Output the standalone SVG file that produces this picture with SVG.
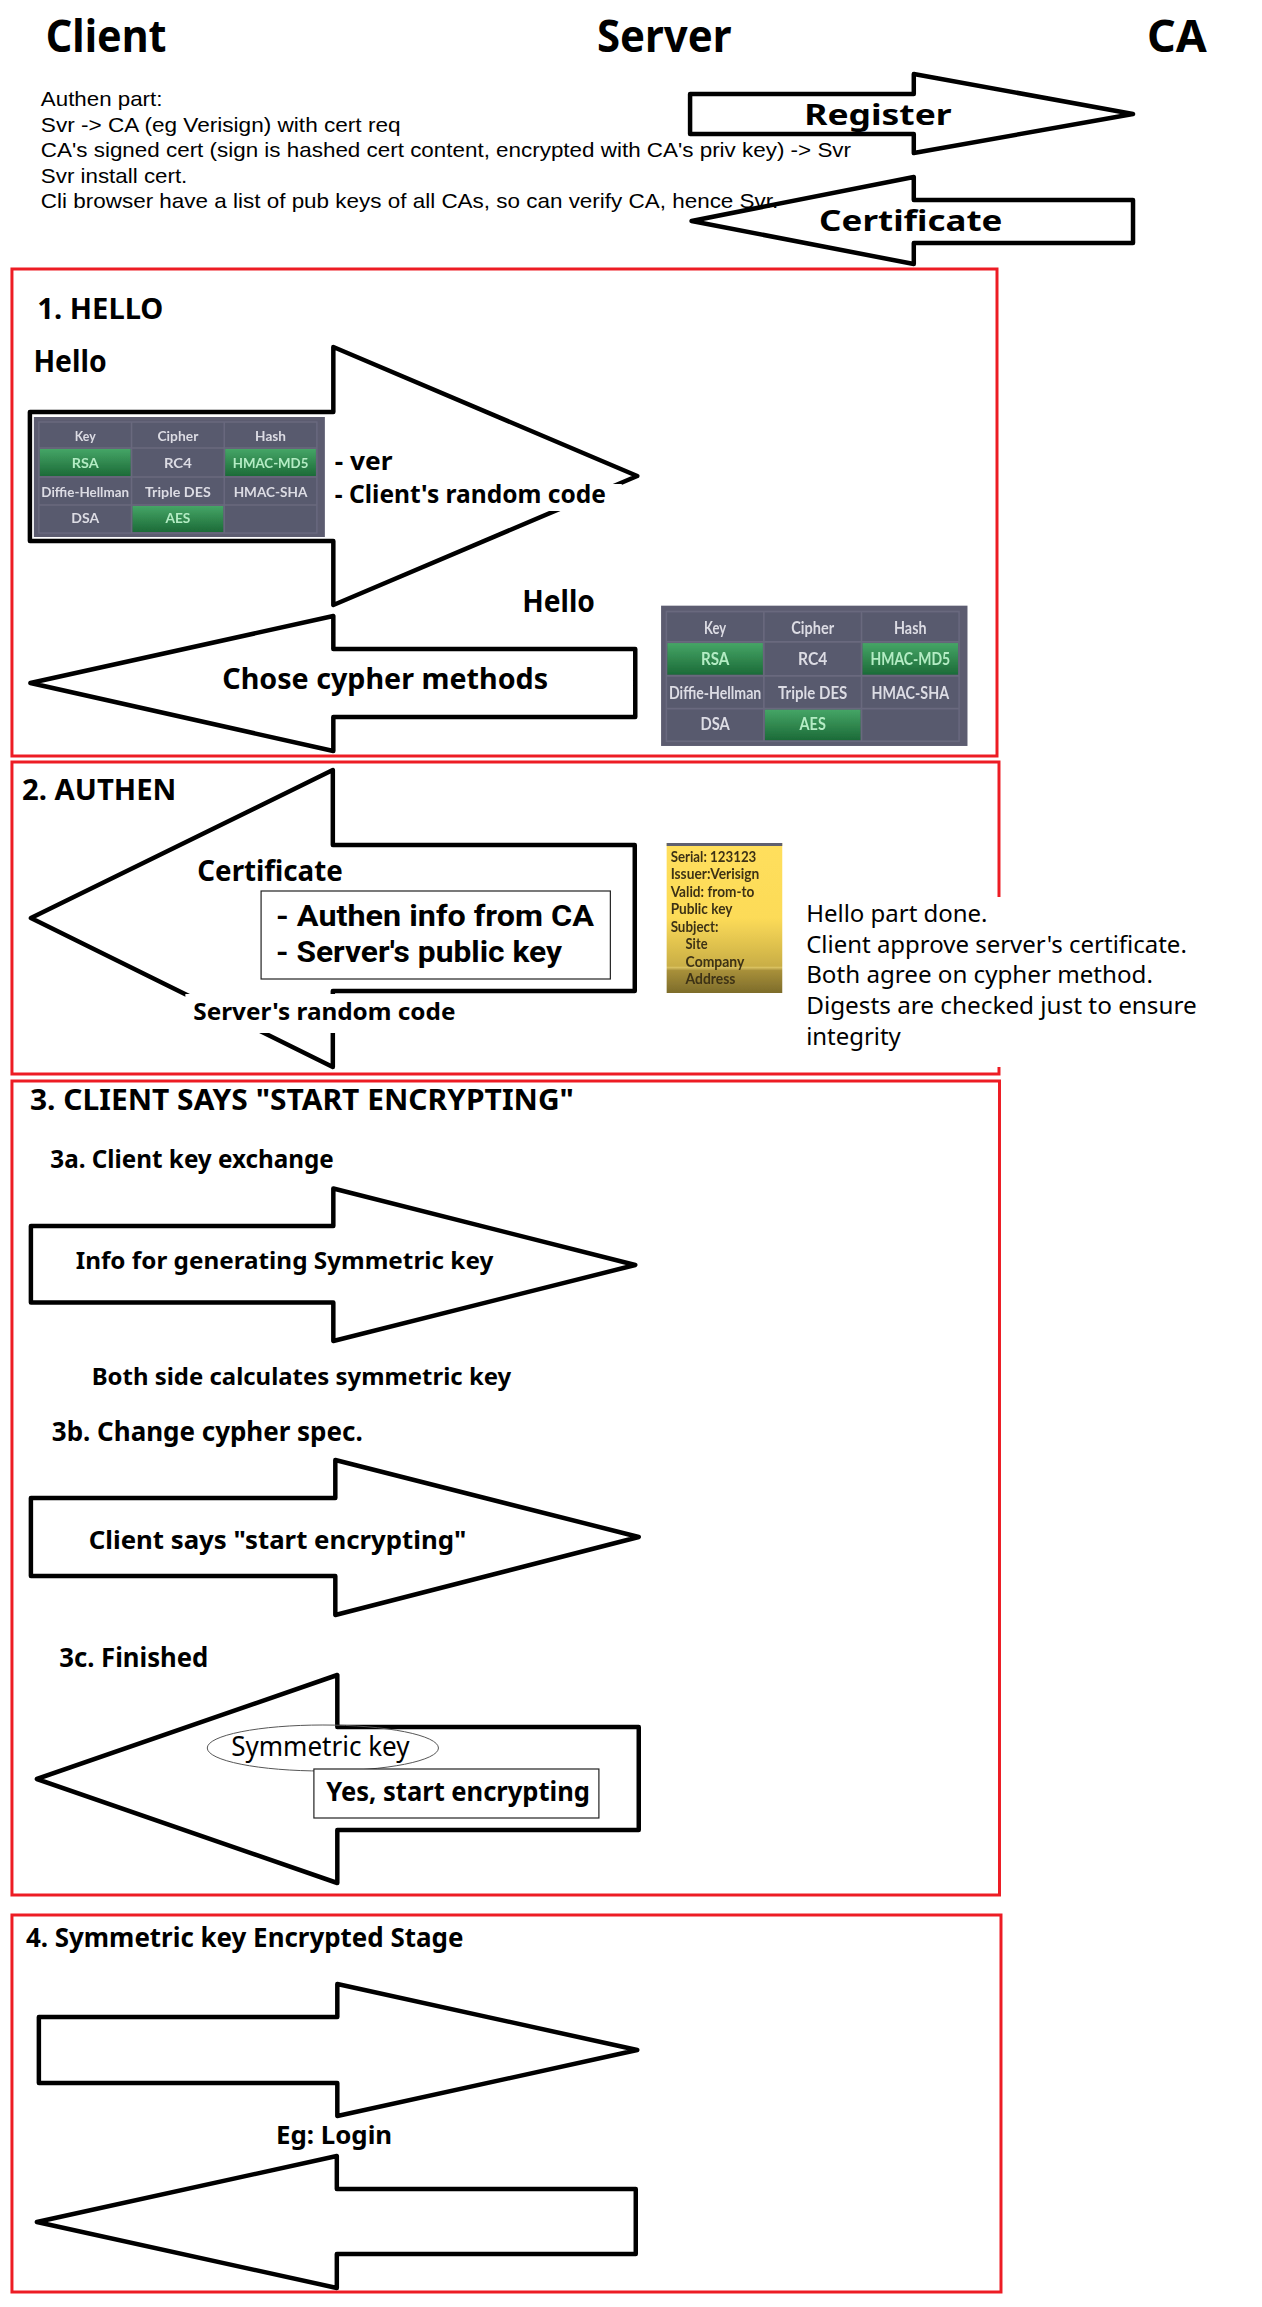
<svg xmlns="http://www.w3.org/2000/svg" width="1262" height="2307" viewBox="0 0 1262 2307">
<style>
text{font-family:"Noto Sans","Open Sans","Liberation Sans",sans-serif;fill:#000}
.b{font-weight:700}
.a{font-family:"Liberation Sans",Arial,sans-serif;font-size:20.5px}
.r{font-weight:400}
.tight{font-family:Roboto,"Noto Sans",sans-serif}
.sec{fill:none;stroke:#ed1c24;stroke-width:3}
.arr{fill:#fff;stroke:#000;stroke-width:4.5;stroke-linejoin:round}
.box{fill:#fff;stroke:#222;stroke-width:1.2}
.cover{fill:#fff;stroke:none}
.t text{font-family:Lato,"Noto Sans",sans-serif;font-size:14px;font-weight:700;fill:#dcdce4;text-anchor:middle}
.t .g{fill:#b4ecc4}
.c text{font-family:Lato,"Noto Sans",sans-serif;font-size:14.5px;font-weight:700;fill:#3d3216}
</style>
<defs>
<linearGradient id="green" x1="0" y1="0" x2="0" y2="1"><stop offset="0" stop-color="#45a566"/><stop offset="1" stop-color="#1c6b38"/></linearGradient>
<linearGradient id="gold" x1="0" y1="0" x2="0" y2="1"><stop offset="0" stop-color="#ffdf5c"/><stop offset="0.5" stop-color="#fcdb58"/><stop offset="0.82" stop-color="#c9ae46"/><stop offset="0.83" stop-color="#d8c060"/><stop offset="0.85" stop-color="#a8903a"/><stop offset="1" stop-color="#7d6c2a"/></linearGradient>
<filter id="soft" x="-5%" y="-5%" width="110%" height="110%"><feGaussianBlur stdDeviation="0.6"/></filter>
</defs>
<rect width="1262" height="2307" fill="#fff"/>
<g id="diagram" transform="scale(0.9965 1)">

<g id="sections">
<rect class="sec" x="12" y="269" width="988.500" height="487"/>
<rect class="sec" x="12" y="762" width="990.500" height="312"/>
<rect class="sec" x="12" y="1081" width="991" height="814"/>
<rect class="sec" x="12" y="1915" width="992.500" height="377"/>
</g>

<g id="connectors">
<polygon id="arrow-register" class="arr" points="692.500,94 917,94 917,74 1137,114 917,153 917,134 692.500,134"/>
<polygon id="arrow-certificate" class="arr" points="694,221 917,177 917,200 1137,200 1137,243 917,243 917,264"/>
<polygon id="arrow-hello" class="arr" points="30,412 334.500,412 334.500,347 639.500,476 334.500,605 334.500,541 30,541"/>
<polygon id="arrow-cypher" class="arr" points="30.500,683 334.500,616 334.500,649 637.500,649 637.500,717 334.500,717 334.500,751"/>
<polygon id="arrow-authen" class="arr" points="31,918 334,770 334,845 637,845 637,991 334,991 334,1067"/>
<polygon id="arrow-3a" class="arr" points="31,1226 334.500,1226 334.500,1188.500 637.500,1265 334.500,1341 334.500,1302.500 31,1302.500"/>
<polygon id="arrow-3b" class="arr" points="31,1498 336.500,1498 336.500,1460 641,1537 336.500,1615 336.500,1576 31,1576"/>
<polygon id="arrow-3c" class="arr" points="37,1779 338.500,1675 338.500,1727 641,1727 641,1830 338.500,1830 338.500,1883"/>
<polygon id="arrow-4a" class="arr" points="39,2017 338.500,2017 338.500,1984 639.500,2050 338.500,2116 338.500,2083 39,2083"/>
<polygon id="arrow-4b" class="arr" points="37,2222 338,2156 338,2189 638,2189 638,2254 338,2254 338,2288"/>
</g>

<g id="header">
<text class="b" x="46" y="52" font-size="45" textLength="121" lengthAdjust="spacingAndGlyphs">Client</text>
<text class="b" x="599" y="52" font-size="45" textLength="135" lengthAdjust="spacingAndGlyphs">Server</text>
<text class="b" x="1151" y="52" font-size="45" textLength="60" lengthAdjust="spacingAndGlyphs">CA</text>
</g>

<g id="authen-note">
<text class="a" x="41" y="106" textLength="122" lengthAdjust="spacingAndGlyphs">Authen part:</text>
<text class="a" x="41" y="132" textLength="361" lengthAdjust="spacingAndGlyphs">Svr -&gt; CA (eg Verisign) with cert req</text>
<text class="a" x="41" y="157" textLength="813" lengthAdjust="spacingAndGlyphs">CA's signed cert (sign is hashed cert content, encrypted with CA's priv key) -&gt; Svr</text>
<text class="a" x="41" y="183" textLength="147" lengthAdjust="spacingAndGlyphs">Svr install cert.</text>
<text class="a" x="41" y="208" textLength="740" lengthAdjust="spacingAndGlyphs">Cli browser have a list of pub keys of all CAs, so can verify CA, hence Svr.</text>
</g>

<g id="label-register"><text class="b" x="807" y="125" font-size="29" textLength="148" lengthAdjust="spacingAndGlyphs">Register</text></g>
<g id="label-certificate"><text class="b" x="822" y="231" font-size="29" textLength="184" lengthAdjust="spacingAndGlyphs">Certificate</text></g>

<g id="step-1">
<text class="b" x="37.500" y="319" font-size="29" textLength="126.500" lengthAdjust="spacingAndGlyphs">1. HELLO</text>
<text class="b" x="33.500" y="372" font-size="30" textLength="73.500" lengthAdjust="spacingAndGlyphs">Hello</text>
<rect class="cover" x="336" y="484" width="288" height="27"/>
<text class="b" x="336" y="470" font-size="25" textLength="58" lengthAdjust="spacingAndGlyphs">- ver</text>
<text class="b" x="336" y="503" font-size="25" textLength="272" lengthAdjust="spacingAndGlyphs">- Client's random code</text>
<text class="b" x="524" y="612" font-size="30" textLength="73" lengthAdjust="spacingAndGlyphs">Hello</text>
<text class="b" x="223" y="689" font-size="29" textLength="327" lengthAdjust="spacingAndGlyphs">Chose cypher methods</text>
</g>

<g id="table-client" class="t" filter="url(#soft)">
<rect x="34" y="417" width="292" height="120" fill="#5b5b70"/>
<rect x="39" y="422" width="279" height="111" fill="#595a6e" stroke="#69697e" stroke-width="1.500"/>
<path d="M132 422V533M225 422V533M39 448H318M39 477H318M39 505H318" stroke="#69697e" stroke-width="1.500" fill="none"/>
<rect x="40" y="449" width="91" height="27" fill="url(#green)"/>
<rect x="226" y="449" width="91" height="27" fill="url(#green)"/>
<rect x="133" y="506" width="91" height="26" fill="url(#green)"/>
<text x="85.500" y="441.500" textLength="21" lengthAdjust="spacingAndGlyphs">Key</text>
<text x="178.500" y="441.500" textLength="41" lengthAdjust="spacingAndGlyphs">Cipher</text>
<text x="271.500" y="441.500" textLength="31" lengthAdjust="spacingAndGlyphs">Hash</text>
<text class="g" x="85.500" y="468" textLength="27" lengthAdjust="spacingAndGlyphs">RSA</text>
<text x="178.500" y="468" textLength="28" lengthAdjust="spacingAndGlyphs">RC4</text>
<text class="g" x="271.500" y="468" textLength="76" lengthAdjust="spacingAndGlyphs">HMAC-MD5</text>
<text x="85.500" y="497" textLength="88" lengthAdjust="spacingAndGlyphs">Diffie-Hellman</text>
<text x="178.500" y="497" textLength="66" lengthAdjust="spacingAndGlyphs">Triple DES</text>
<text x="271.500" y="497" textLength="74" lengthAdjust="spacingAndGlyphs">HMAC-SHA</text>
<text x="85.500" y="523" textLength="28" lengthAdjust="spacingAndGlyphs">DSA</text>
<text class="g" x="178.500" y="523" textLength="25" lengthAdjust="spacingAndGlyphs">AES</text>
</g>

<g id="table-server" class="t" filter="url(#soft)" transform="translate(627.600 118.200) scale(1.053 1.169)">
<rect x="34" y="417" width="292" height="120" fill="#5b5b70"/>
<rect x="39" y="422" width="279" height="111" fill="#595a6e" stroke="#69697e" stroke-width="1.500"/>
<path d="M132 422V533M225 422V533M39 448H318M39 477H318M39 505H318" stroke="#69697e" stroke-width="1.500" fill="none"/>
<rect x="40" y="449" width="91" height="27" fill="url(#green)"/>
<rect x="226" y="449" width="91" height="27" fill="url(#green)"/>
<rect x="133" y="506" width="91" height="26" fill="url(#green)"/>
<text x="85.500" y="441.500" textLength="21" lengthAdjust="spacingAndGlyphs">Key</text>
<text x="178.500" y="441.500" textLength="41" lengthAdjust="spacingAndGlyphs">Cipher</text>
<text x="271.500" y="441.500" textLength="31" lengthAdjust="spacingAndGlyphs">Hash</text>
<text class="g" x="85.500" y="468" textLength="27" lengthAdjust="spacingAndGlyphs">RSA</text>
<text x="178.500" y="468" textLength="28" lengthAdjust="spacingAndGlyphs">RC4</text>
<text class="g" x="271.500" y="468" textLength="76" lengthAdjust="spacingAndGlyphs">HMAC-MD5</text>
<text x="85.500" y="497" textLength="88" lengthAdjust="spacingAndGlyphs">Diffie-Hellman</text>
<text x="178.500" y="497" textLength="66" lengthAdjust="spacingAndGlyphs">Triple DES</text>
<text x="271.500" y="497" textLength="74" lengthAdjust="spacingAndGlyphs">HMAC-SHA</text>
<text x="85.500" y="523" textLength="28" lengthAdjust="spacingAndGlyphs">DSA</text>
<text class="g" x="178.500" y="523" textLength="25" lengthAdjust="spacingAndGlyphs">AES</text>
</g>

<g id="step-2">
<text class="b" x="22" y="800" font-size="29" textLength="155" lengthAdjust="spacingAndGlyphs">2. AUTHEN</text>
<text class="b" x="198" y="881" font-size="28" textLength="146" lengthAdjust="spacingAndGlyphs">Certificate</text>
<rect class="box" x="262" y="891" width="350.500" height="88"/>
<text class="b tight" x="277" y="926" font-size="30" textLength="319" lengthAdjust="spacingAndGlyphs">- Authen info from CA</text>
<text class="b tight" x="277" y="962" font-size="30" textLength="287" lengthAdjust="spacingAndGlyphs">- Server's public key</text>
<rect class="cover" x="186" y="994" width="284" height="39"/>
<text class="b" x="194" y="1020" font-size="23" textLength="263" lengthAdjust="spacingAndGlyphs">Server's random code</text>
</g>

<g id="certificate-card" class="c" filter="url(#soft)" transform="translate(3 0)">
<rect x="666" y="843" width="116" height="150" fill="url(#gold)"/>
<rect x="666" y="843" width="116" height="3" fill="#5f6070"/>
<text x="670" y="862" textLength="86" lengthAdjust="spacingAndGlyphs">Serial: 123123</text>
<text x="670" y="879" textLength="89" lengthAdjust="spacingAndGlyphs">Issuer:Verisign</text>
<text x="670" y="897" textLength="84" lengthAdjust="spacingAndGlyphs">Valid: from-to</text>
<text x="670" y="914" textLength="62" lengthAdjust="spacingAndGlyphs">Public key</text>
<text x="670" y="932" textLength="48" lengthAdjust="spacingAndGlyphs">Subject:</text>
<text x="685" y="949" textLength="22" lengthAdjust="spacingAndGlyphs">Site</text>
<text x="685" y="967" textLength="59" lengthAdjust="spacingAndGlyphs">Company</text>
<text x="685" y="984" textLength="50" lengthAdjust="spacingAndGlyphs">Address</text>
</g>

<g id="hello-done-note">
<rect class="cover" x="800" y="897" width="415" height="170"/>
<text class="r" x="809" y="922" font-size="23" textLength="182" lengthAdjust="spacingAndGlyphs">Hello part done.</text>
<text class="r" x="809" y="953" font-size="23" textLength="382" lengthAdjust="spacingAndGlyphs">Client approve server's certificate.</text>
<text class="r" x="809" y="983" font-size="23" textLength="348" lengthAdjust="spacingAndGlyphs">Both agree on cypher method.</text>
<text class="r" x="809" y="1014" font-size="23" textLength="392" lengthAdjust="spacingAndGlyphs">Digests are checked just to ensure</text>
<text class="r" x="809" y="1045" font-size="23" textLength="95" lengthAdjust="spacingAndGlyphs">integrity</text>
</g>

<g id="step-3">
<text class="b" x="30" y="1110" font-size="29" textLength="546" lengthAdjust="spacingAndGlyphs">3. CLIENT SAYS "START ENCRYPTING"</text>
<text class="b" x="50.500" y="1168" font-size="25" textLength="284.500" lengthAdjust="spacingAndGlyphs">3a. Client key exchange</text>
<text class="b" x="76" y="1269" font-size="24" textLength="419" lengthAdjust="spacingAndGlyphs">Info for generating Symmetric key</text>
<text class="b" x="92" y="1385" font-size="24" textLength="421" lengthAdjust="spacingAndGlyphs">Both side calculates symmetric key</text>
<text class="b" x="52" y="1441" font-size="27" textLength="312" lengthAdjust="spacingAndGlyphs">3b. Change cypher spec.</text>
<text class="b" x="89" y="1549" font-size="25" textLength="379" lengthAdjust="spacingAndGlyphs">Client says "start encrypting"</text>
<text class="b" x="59.500" y="1667" font-size="26" textLength="149.500" lengthAdjust="spacingAndGlyphs">3c. Finished</text>
<ellipse cx="324" cy="1748" rx="116" ry="23" fill="none" stroke="#555" stroke-width="1"/>
<text class="r" x="232" y="1756" font-size="27" textLength="179" lengthAdjust="spacingAndGlyphs">Symmetric key</text>
<rect class="box" x="315" y="1769" width="286" height="49"/>
<text class="b" x="327.500" y="1801" font-size="26" textLength="264.500" lengthAdjust="spacingAndGlyphs">Yes, start encrypting</text>
</g>

<g id="step-4">
<text class="b" x="26" y="1947" font-size="26" textLength="439" lengthAdjust="spacingAndGlyphs">4. Symmetric key Encrypted Stage</text>
<text class="b" x="277" y="2144" font-size="25" textLength="116.500" lengthAdjust="spacingAndGlyphs">Eg: Login</text>
</g>
</g>
</svg>
